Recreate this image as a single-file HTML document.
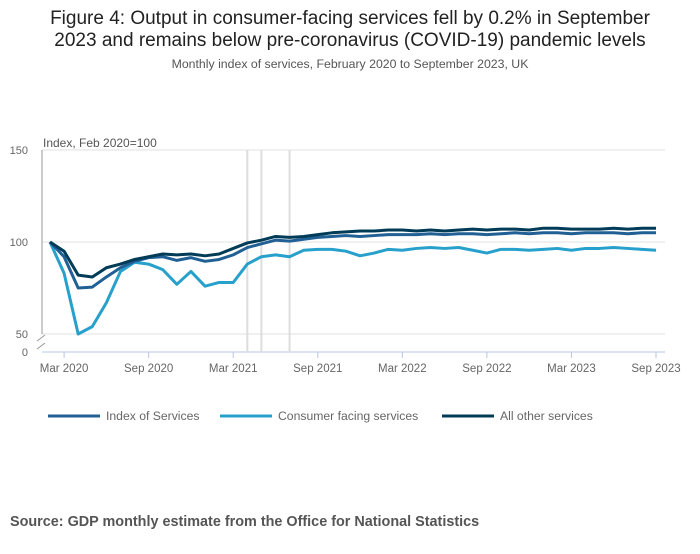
<!DOCTYPE html>
<html><head><meta charset="utf-8"><style>
body{margin:0;background:#fff;font-family:"Liberation Sans",sans-serif;}
svg text{font-family:"Liberation Sans",sans-serif;}
</style></head><body>
<svg id="c" width="700" height="549">
<text x="350" y="24" text-anchor="middle" font-size="19" fill="#222">Figure 4: Output in consumer-facing services fell by 0.2% in September</text>
<text x="350" y="46" text-anchor="middle" font-size="19" fill="#222">2023 and remains below pre-coronavirus (COVID-19) pandemic levels</text>
<text x="350" y="68" text-anchor="middle" font-size="12.3" fill="#555">Monthly index of services, February 2020 to September 2023, UK</text>
<text x="43" y="147" font-size="12" fill="#555">Index, Feb 2020=100</text>
<g id="g"></g>
<text x="10" y="526" font-size="14.4" font-weight="bold" fill="#555">Source: GDP monthly estimate from the Office for National Statistics</text>
</svg>
<script>
const months=["Feb 2020","Mar 2020","Apr 2020","May 2020","Jun 2020","Jul 2020","Aug 2020","Sep 2020","Oct 2020","Nov 2020","Dec 2020","Jan 2021","Feb 2021","Mar 2021","Apr 2021","May 2021","Jun 2021","Jul 2021","Aug 2021","Sep 2021","Oct 2021","Nov 2021","Dec 2021","Jan 2022","Feb 2022","Mar 2022","Apr 2022","May 2022","Jun 2022","Jul 2022","Aug 2022","Sep 2022","Oct 2022","Nov 2022","Dec 2022","Jan 2023","Feb 2023","Mar 2023","Apr 2023","May 2023","Jun 2023","Jul 2023","Aug 2023","Sep 2023"];
const indexServices=[100,92,75,75.5,81,86,89.5,91.5,92,90,91.5,89.5,90.5,93,97,99,101,100.5,101.5,102.5,103,103.5,103,103.5,104,104,104,104.5,104,104.5,104.5,104,104.5,105,104.5,105,105,104.5,105,105,105,104.5,105,105];
const consumerFacing=[100,83,50,54,67,84,89,88,85,77,84,76,78,78,88,92,93,92,95.5,96,96,95,92.5,94,96,95.5,96.5,97,96.5,97,95.5,94,96,96,95.5,96,96.5,95.5,96.5,96.5,97,96.5,96,95.5];
const allOther=[100,95,82,81,86,88,90.5,92,93.5,93,93.5,92.5,93.5,96.5,99.5,101,103,102.5,103,104,105,105.5,106,106,106.5,106.5,106,106.5,106,106.5,107,106.5,107,107,106.5,107.5,107.5,107,107,107,107.5,107,107.5,107.5];
const yTicks=[50,100,150];
const xTickLabels=["Mar 2020","Sep 2020","Mar 2021","Sep 2021","Mar 2022","Sep 2022","Mar 2023","Sep 2023"];
const markerMonths=["Apr 2021","May 2021","Jul 2021"];
const NS="http://www.w3.org/2000/svg",g=document.getElementById('g');
const x=i=>50+i*(606/43), y=v=>242-(v-100)*1.84;
function el(t,a,txt){const e=document.createElementNS(NS,t);for(const k in a)e.setAttribute(k,a[k]);if(txt!=null)e.textContent=txt;g.appendChild(e);return e;}
yTicks.forEach(v=>{
 const l=el('line',{x1:42,x2:665,y1:y(v),y2:y(v),stroke:'#e0e0e0','stroke-width':1});
 
 
 const t=el('text',{x:28,y:y(v)+4,'text-anchor':'end','font-size':11,fill:'#666'},v);
 
 
});
let z=el('text',{x:28,y:356,'text-anchor':'end','font-size':11,fill:'#666'},"0");


let ax=el('line',{x1:42,x2:42,y1:150,y2:334,stroke:'#999'});


el('path',{d:'M37,341 L45,335 M37,349 L45,343',stroke:'#999',fill:'none'});
let bx=el('line',{x1:42,x2:665,y1:352,y2:352,stroke:'#b8c7e0'});


markerMonths.forEach(m=>{const i=months.indexOf(m);
 const l=el('line',{x1:x(i),x2:x(i),y1:150,y2:352,stroke:'#ddd','stroke-width':2});
 
 });
xTickLabels.forEach(m=>{const i=months.indexOf(m);
 el('line',{x1:x(i),x2:x(i),y1:352,y2:358,stroke:'#b8c7e0'});
 const t=el('text',{x:x(i),y:372,'text-anchor':'middle','font-size':11.5,fill:'#666'},m);
 
 });
const series=[["consumer-facing-line",consumerFacing,"#27a0cc"],["index-of-services-line",indexServices,"#206095"],["all-other-services-line",allOther,"#003c57"]];
series.forEach(([n,d,c])=>{
 const p=el('polyline',{points:d.map((v,i)=>x(i)+','+y(v)).join(' '),fill:'none',stroke:c,'stroke-width':3,'stroke-linejoin':'round'});
 
 });
[["Index of Services","#206095",48],["Consumer facing services","#27a0cc",220],["All other services","#003c57",442]].forEach(([t,c,lx])=>{
 const l=el('line',{x1:lx,x2:lx+52,y1:416,y2:416,stroke:c,'stroke-width':3});
 
 
 const tx=el('text',{x:lx+58,y:420,'font-size':12.2,fill:'#666'},t);
 
 });
</script>
</body></html>
